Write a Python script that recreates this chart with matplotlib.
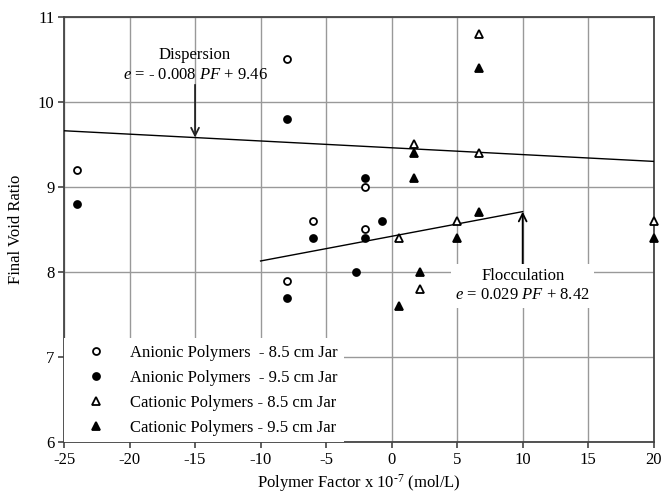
import matplotlib
matplotlib.use("Agg")
import matplotlib.pyplot as plt
import numpy as np

plt.rcParams['font.family'] = ['Liberation Serif', 'DejaVu Serif']
plt.rcParams['mathtext.fontset'] = 'custom'
plt.rcParams['mathtext.rm'] = 'Liberation Serif'
plt.rcParams['mathtext.it'] = 'Liberation Serif:italic'
plt.rcParams['axes.unicode_minus'] = False

# Data
an85_x = [-24, -8, -6, -2, -2, -8]
an85_y = [9.2, 10.5, 8.6, 9.0, 8.5, 7.9]
an95_x = [-24, -8, -6, -2, -2, -0.7, -2.7, -8]
an95_y = [8.8, 9.8, 8.4, 9.1, 8.4, 8.6, 8.0, 7.7]
ca85_x = [1.7, 6.7, 6.7, 5.0, 0.55, 20, 2.2]
ca85_y = [9.5, 10.8, 9.4, 8.6, 8.4, 8.6, 7.8]
ca95_x = [1.7, 1.7, 6.7, 6.7, 5.0, 20, 2.2, 0.55]
ca95_y = [9.4, 9.1, 10.4, 8.7, 8.4, 8.4, 8.0, 7.6]

disp_slope, disp_int = -0.008, 9.46
disp_range = [-25, 20]
floc_slope, floc_int = 0.029, 8.42
floc_range = [-10, 10]

labels = ["Anionic Polymers  - 8.5 cm Jar", "Anionic Polymers  - 9.5 cm Jar",
          "Cationic Polymers - 8.5 cm Jar", "Cationic Polymers - 9.5 cm Jar"]

fig = plt.figure(figsize=(6.62, 4.94), dpi=100)
ax = fig.add_axes([0.0967, 0.1047, 0.8908, 0.8615])

fs = 12
ms = 5
mt = 6
ax.plot(an85_x, an85_y, 'o', ms=ms, mfc='white', mec='black', mew=1.3, ls='none', label=labels[0], zorder=5, clip_on=False)
ax.plot(an95_x, an95_y, 'o', ms=ms, mfc='black', mec='black', mew=1.3, ls='none', label=labels[1], zorder=5, clip_on=False)
ax.plot(ca85_x, ca85_y, '^', ms=mt, mfc='white', mec='black', mew=1.3, ls='none', label=labels[2], zorder=5, clip_on=False)
ax.plot(ca95_x, ca95_y, '^', ms=mt, mfc='black', mec='black', mew=1.3, ls='none', label=labels[3], zorder=5, clip_on=False)

dx = np.array(disp_range)
ax.plot(dx, disp_slope * dx + disp_int, color='black', lw=1.0, zorder=3)
fx = np.array(floc_range)
ax.plot(fx, floc_slope * fx + floc_int, color='black', lw=1.0, zorder=3)

# Annotations
ax.annotate('', xy=(-15, disp_slope * -15 + disp_int), xytext=(-15, 10.2),
            arrowprops=dict(arrowstyle='->', color='#222222', lw=1.3, mutation_scale=14, shrinkA=0, shrinkB=0), zorder=4)
ax.text(-15, 10.43, 'Dispersion\n$e$ = - 0.008 $PF$ + 9.46', ha='center', va='center',
        fontsize=fs, linespacing=1.3, zorder=4)

ax.annotate('', xy=(10, floc_slope * 10 + floc_int), xytext=(10, 7.9),
            arrowprops=dict(arrowstyle='->', color='black', lw=1.3, mutation_scale=14, shrinkA=0, shrinkB=0), zorder=4)
ax.text(10, 7.84, 'Flocculation\n$e$ = 0.029 $PF$ + 8.42', ha='center', va='center',
        fontsize=fs, linespacing=1.3, zorder=6,
        bbox=dict(facecolor='white', edgecolor='none', pad=3))

ax.set_xlim(-25, 20)
ax.set_ylim(6, 11)
ax.set_xticks(np.arange(-25, 21, 5))
ax.set_yticks(np.arange(6, 12, 1))
ax.grid(True, color='#999999', lw=1.0, zorder=0)
ax.set_axisbelow(True)
for s in ax.spines.values():
    s.set_color('#444444')
    s.set_linewidth(1.3)
ax.tick_params(direction='out', length=4, width=1.2, color='#444444', labelsize=fs, pad=3)

ax.set_xlabel('Polymer Factor x 10$^{\\text{-7}}$ (mol/L)', fontsize=fs, labelpad=3)
ax.set_ylabel('Final Void Ratio', fontsize=fs, labelpad=10)

leg = ax.legend(loc='lower left', bbox_to_anchor=(0, 0), borderaxespad=0.0, fontsize=fs,
                frameon=True, framealpha=1, facecolor='white', edgecolor='none', fancybox=False,
                handletextpad=0.51, labelspacing=0.53, borderpad=0.4, handlelength=3.04)
leg.set_zorder(4)

fig.savefig('out.png', dpi=100)
